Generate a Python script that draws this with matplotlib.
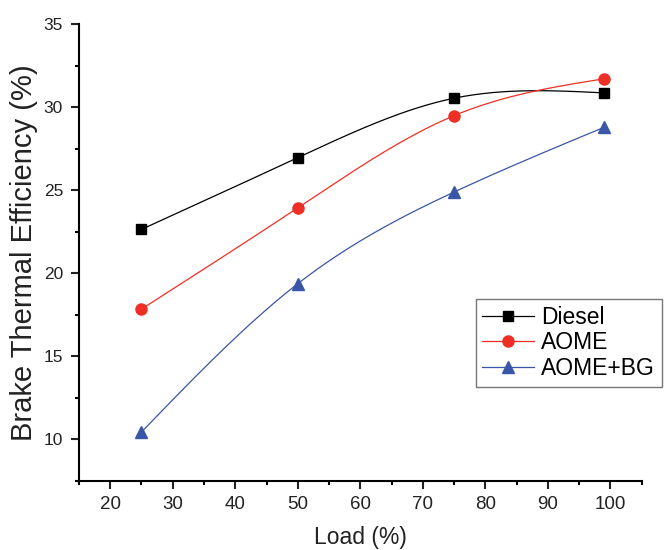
import numpy as np
import matplotlib.pyplot as plt

plt.rcParams['font.family'] = ['Liberation Sans', 'DejaVu Sans']

load = [25, 50, 75, 99]
diesel = [22.65, 26.97, 30.55, 30.87]
aome = [17.85, 23.95, 29.5, 31.72]
aome_bg = [10.45, 19.38, 24.9, 28.8]


def natural_spline(x, y, n=200):
    # natural cubic spline through the measured points, for a smooth connecting line
    x = np.asarray(x, float)
    y = np.asarray(y, float)
    k = len(x)
    h = np.diff(x)
    A = np.zeros((k, k))
    b = np.zeros(k)
    A[0, 0] = A[-1, -1] = 1.0
    for i in range(1, k - 1):
        A[i, i - 1] = h[i - 1]
        A[i, i] = 2 * (h[i - 1] + h[i])
        A[i, i + 1] = h[i]
        b[i] = 6 * ((y[i + 1] - y[i]) / h[i] - (y[i] - y[i - 1]) / h[i - 1])
    m = np.linalg.solve(A, b)
    xs = np.linspace(x[0], x[-1], n)
    ys = np.empty_like(xs)
    for j, t in enumerate(xs):
        i = min(np.searchsorted(x, t, side='right') - 1, k - 2)
        a = x[i + 1] - t
        c = t - x[i]
        ys[j] = (m[i] * a ** 3 + m[i + 1] * c ** 3) / (6 * h[i]) \
            + (y[i] / h[i] - m[i] * h[i] / 6) * a \
            + (y[i + 1] / h[i] - m[i + 1] * h[i] / 6) * c
    return xs, ys


fig = plt.figure(figsize=(6.67, 5.5), dpi=100)
ax = fig.add_axes([0.1184, 0.1255, 0.8436, 0.8303])

series = [
    ('Diesel', diesel, 'black', 's', 7.5),
    ('AOME', aome, '#ee2f26', 'o', 8),
    ('AOME+BG', aome_bg, '#3a56a8', '^', 9),
]
for name, vals, col, mk, ms in series:
    xs, ys = natural_spline(load, vals)
    ax.plot(xs, ys, color=col, lw=0.9)
    ax.plot(load, vals, linestyle='none', marker=mk, color=col, ms=ms)
    # legend proxy with line and marker together
    ax.plot([], [], color=col, lw=0.9, marker=mk, ms=ms, label=name)

ax.set_xlim(15, 105)
ax.set_ylim(7.5, 35)
ax.set_xticks(np.arange(20, 101, 10))
ax.set_xticks(np.arange(15, 106, 10), minor=True)
ax.set_yticks(np.arange(10, 36, 5))
ax.set_yticks(np.arange(7.5, 35.1, 5), minor=True)

for s in ['top', 'right']:
    ax.spines[s].set_visible(False)
for s in ['left', 'bottom']:
    ax.spines[s].set_linewidth(1.5)
ax.tick_params(which='major', direction='out', length=6, width=1.5, colors='#222222')
ax.tick_params(which='minor', direction='out', length=3, width=1.5)
ax.tick_params(axis='x', which='major', pad=5, labelsize=13.5)
ax.tick_params(axis='y', which='major', pad=5.5, labelsize=12.5)

ax.set_xlabel('Load (%)', fontsize=16.5, color='#222222', labelpad=9)
ax.set_ylabel('Brake Thermal Efficiency (%)', fontsize=21, color='#222222', labelpad=4)

leg = ax.legend(loc='upper left', bbox_to_anchor=(0.713, 0.456), bbox_transform=fig.transFigure,
                borderaxespad=0, fancybox=False, fontsize=16.5, handlelength=2.25,
                handletextpad=0.3, labelspacing=0.1, borderpad=0.3)
leg.get_frame().set_edgecolor('#555555')
leg.get_frame().set_linewidth(1.0)

fig.savefig('out.png', dpi=100)
